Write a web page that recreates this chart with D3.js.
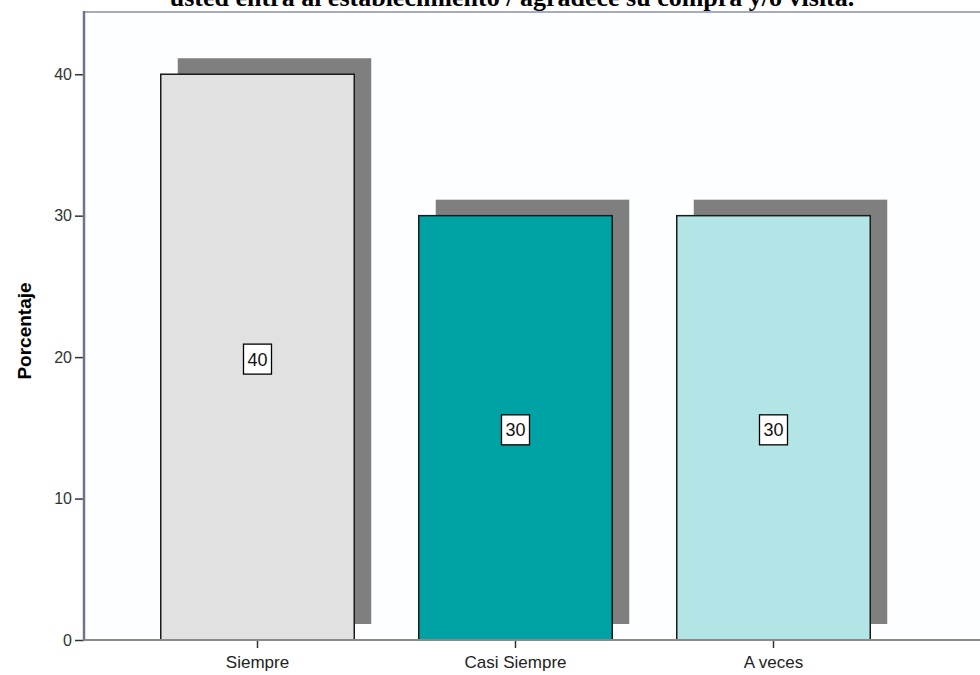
<!DOCTYPE html>
<html>
<head>
<meta charset="utf-8">
<script src="https://cdn.jsdelivr.net/npm/d3@7"></script>
<style>
  html, body { margin: 0; padding: 0; background: #ffffff; }
  svg { display: block; }
</style>
</head>
<body>
<svg id="chart" width="980" height="675"></svg>
<script>
// Percentage of answers per category
const categories = ["Siempre", "Casi Siempre", "A veces"];
const values = [40, 30, 30];
const barColors = ["#e1e1e1", "#00a3a3", "#b3e5e7"];
const yTicks = [0, 10, 20, 30, 40];
const yMax = 44.4;
const titleText = "usted entra al establecimiento / agradece su compra y/o visita.";
const yLabel = "Porcentaje";

const svg = d3.select("#chart");
const plotLeft = 84, plotRight = 980, plotTop = 12, plotBottom = 640;

// Plot background
svg.append("rect")
  .attr("x", plotLeft).attr("y", plotTop)
  .attr("width", plotRight - plotLeft).attr("height", plotBottom - plotTop)
  .attr("fill", "#fdfeff");

const x = d3.scaleBand()
  .domain(categories)
  .range([128.5, 902.5])
  .paddingInner(0.25)
  .paddingOuter(0.125);

const y = d3.scaleLinear().domain([0, yMax]).range([plotBottom, plotTop]);

// Title (its upper part runs past the top of the page)
svg.append("text")
  .attr("x", 512).attr("y", 6)
  .attr("text-anchor", "middle")
  .attr("font-family", "'Liberation Serif', 'Times New Roman', serif")
  .attr("font-weight", "bold")
  .attr("font-size", 26)
  .attr("fill", "#000")
  .text(titleText);

// Frame top line
svg.append("line")
  .attr("x1", plotLeft).attr("x2", plotRight)
  .attr("y1", plotTop).attr("y2", plotTop)
  .attr("stroke", "#a6aac2").attr("stroke-width", 2);

// Drop shadows behind bars
const sdx = 17, sdy = -16;
svg.append("g").selectAll("rect")
  .data(values)
  .join("rect")
  .attr("x", (d, i) => x(categories[i]) + sdx)
  .attr("y", d => y(d) + sdy)
  .attr("width", x.bandwidth())
  .attr("height", d => y(0) - y(d))
  .attr("fill", "#7f7f7f");

// Bars
svg.append("g").selectAll("rect")
  .data(values)
  .join("rect")
  .attr("x", (d, i) => x(categories[i]))
  .attr("y", d => y(d))
  .attr("width", x.bandwidth())
  .attr("height", d => y(0) - y(d))
  .attr("fill", (d, i) => barColors[i])
  .attr("stroke", "#1a1a1a")
  .attr("stroke-width", 1.5);

// Value labels in boxes at mid-height
const lab = svg.append("g").selectAll("g")
  .data(values)
  .join("g")
  .attr("transform", (d, i) => `translate(${x(categories[i]) + x.bandwidth() / 2},${y(d / 2) + 2})`);
lab.append("rect")
  .attr("x", -14).attr("y", -15)
  .attr("width", 28).attr("height", 30)
  .attr("fill", "#ffffff")
  .attr("stroke", "#000").attr("stroke-width", 1.3);
lab.append("text")
  .attr("text-anchor", "middle")
  .attr("dy", "0.36em")
  .attr("font-family", "'Liberation Sans', Arial, sans-serif")
  .attr("font-size", 18)
  .attr("fill", "#111")
  .text(d => d);

// Y axis
const yAxis = d3.axisLeft(y).tickValues(yTicks).tickSize(9).tickSizeOuter(0).tickFormat(d3.format("d"));
const gy = svg.append("g").attr("transform", `translate(${plotLeft},0)`).call(yAxis);
gy.select(".domain").remove();
gy.selectAll(".tick line").attr("stroke", "#333").attr("stroke-width", 1.5);
gy.selectAll(".tick text")
  .attr("font-family", "'Liberation Sans', Arial, sans-serif")
  .attr("font-size", 16)
  .attr("fill", "#333")
  .attr("x", -12);
svg.append("line")
  .attr("x1", plotLeft).attr("x2", plotLeft)
  .attr("y1", plotTop - 1).attr("y2", plotBottom + 1)
  .attr("stroke", "#6e7391").attr("stroke-width", 2.5);

// X axis
const xAxis = d3.axisBottom(x).tickSize(8).tickSizeOuter(0);
const gx = svg.append("g").attr("transform", `translate(0,${plotBottom})`).call(xAxis);
gx.select(".domain").remove();
gx.selectAll(".tick line").attr("stroke", "#333").attr("stroke-width", 1.5);
gx.selectAll(".tick text")
  .attr("font-family", "'Liberation Sans', Arial, sans-serif")
  .attr("font-size", 17)
  .attr("fill", "#222")
  .attr("y", 16);
svg.append("line")
  .attr("x1", plotLeft).attr("x2", plotRight)
  .attr("y1", plotBottom).attr("y2", plotBottom)
  .attr("stroke", "#8a8a8a").attr("stroke-width", 2);

// Y axis title
svg.append("text")
  .attr("transform", `translate(31,${(plotTop + plotBottom) / 2 + 5}) rotate(-90)`)
  .attr("text-anchor", "middle")
  .attr("font-family", "'Liberation Sans', Arial, sans-serif")
  .attr("font-weight", "bold")
  .attr("font-size", 19)
  .attr("fill", "#000")
  .text(yLabel);
</script>
</body>
</html>
